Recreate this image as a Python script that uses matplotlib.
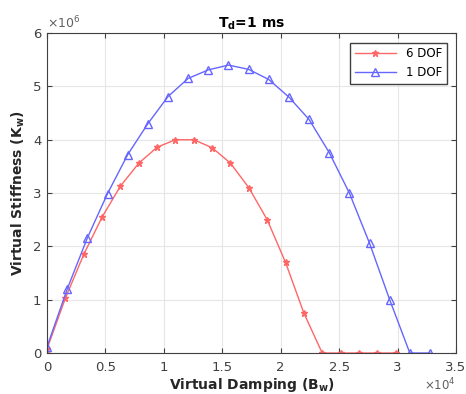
import numpy as np
import matplotlib.pyplot as plt

# damping values (x1e4) and stiffness values (x1e6)
damp_6dof = [0, 0.157, 0.314, 0.471, 0.628, 0.785, 0.942, 1.099, 1.256, 1.413,
             1.57, 1.727, 1.884, 2.041, 2.198, 2.355, 2.512, 2.669, 2.826, 2.983]
stiff_6dof = [0.08, 1.03, 1.85, 2.55, 3.13, 3.56, 3.86, 4.0, 4.0, 3.85,
              3.56, 3.10, 2.50, 1.70, 0.75, 0, 0, 0, 0, 0]

damp_1dof = [0, 0.1725, 0.345, 0.5175, 0.69, 0.8625, 1.035, 1.2075, 1.38, 1.5525,
             1.725, 1.8975, 2.07, 2.2425, 2.415, 2.5875, 2.76, 2.9325, 3.105, 3.2775]
stiff_1dof = [0.12, 1.2, 2.16, 2.99, 3.72, 4.30, 4.81, 5.15, 5.31, 5.40,
              5.32, 5.13, 4.80, 4.38, 3.76, 3.0, 2.06, 1.0, 0, 0]

labels = ['6 DOF', '1 DOF']
xticks = [0, 0.5, 1, 1.5, 2, 2.5, 3, 3.5]
yticks = [0, 1, 2, 3, 4, 5, 6]

fig = plt.figure(figsize=(4.66, 3.94), dpi=100)
ax = fig.add_axes([0.101, 0.104, 0.8775, 0.812])

ax.plot(damp_6dof, stiff_6dof, color='#ff6666',
        marker='*', markersize=5, linewidth=1, label=labels[0])
ax.plot(damp_1dof, stiff_1dof, color='#6666ff',
        marker='^', markersize=6, markerfacecolor='none', linewidth=1, label=labels[1])

ax.set_xlim(0, 3.5)
ax.set_ylim(0, 6)
ax.set_xticks(xticks)
ax.set_xticklabels(['%g' % v for v in xticks])
ax.set_yticks(yticks)
ax.set_yticklabels(['%g' % v for v in yticks])
ax.grid(True, color='#e6e6e6', linewidth=0.8)
ax.tick_params(direction='in', colors='#404040', labelsize=9.5, top=True, right=True)
ax.tick_params(axis='x', pad=6)
ax.tick_params(axis='y', pad=4)
for s in ax.spines.values():
    s.set_color('#404040')

# exponent labels like matlab
ax.text(0.0, 1.005, r'$\times10^{6}$', transform=ax.transAxes, fontsize=9,
        color='#606060', ha='left', va='bottom')
ax.text(1.0, -0.1, r'$\times10^{4}$', transform=ax.transAxes, fontsize=8.5,
        color='#606060', ha='right', va='center')

ax.set_title(r'$\mathbf{T_d}$=1 ms', fontweight='bold', fontsize=10, pad=4)
ax.set_xlabel(r'Virtual Damping (B$_\mathbf{w}$)', fontweight='bold', fontsize=10, color='#262626', labelpad=1)
ax.set_ylabel(r'Virtual Stiffness (K$_\mathbf{w}$)', fontweight='bold', fontsize=10, color='#262626', labelpad=4)

leg = ax.legend(loc='upper right', fontsize=8.5, fancybox=False, edgecolor='#404040',
                framealpha=1, handlelength=3.5, borderaxespad=0.8)

fig.savefig('out.png', dpi=100)
